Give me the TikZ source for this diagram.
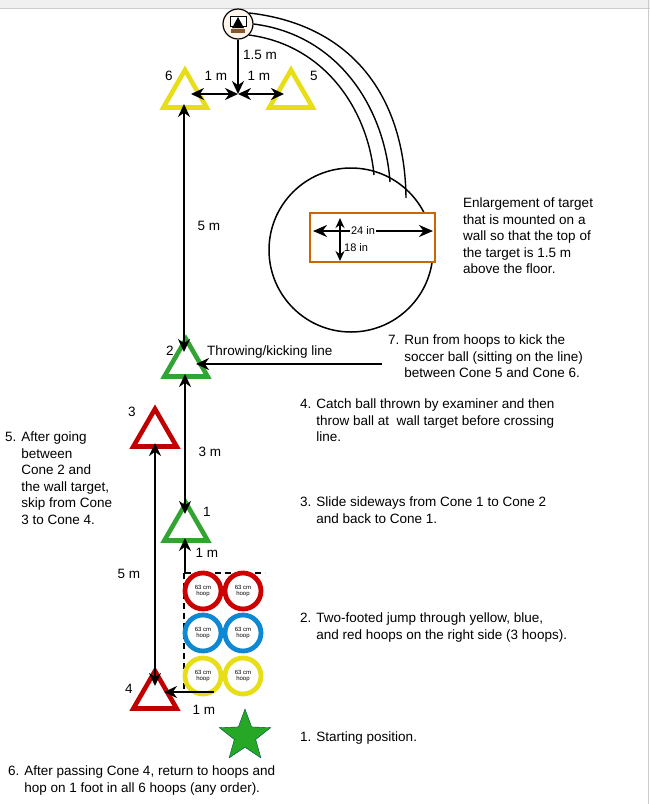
\documentclass[tikz,border=0pt]{standalone}
\usepackage{fontspec}
\setmainfont{Liberation Sans}
\usetikzlibrary{shapes.geometric,arrows.meta}
\begin{document}
\begin{tikzpicture}[x=1pt,y=-1pt,
  cone/.style={regular polygon,regular polygon sides=3,minimum size=50pt,inner sep=0pt,draw=#1,line width=4.6pt},
  hoopc/.style={circle,draw=#1,line width=4.8pt,minimum size=36pt,inner sep=0pt,align=center,font=\fontsize{6}{6.5}\selectfont},
  dim/.style={line width=2.8pt,{Stealth[length=13pt,width=12pt]}-{Stealth[length=13pt,width=12pt]}},
  one/.style={line width=2.8pt,-{Stealth[length=13pt,width=12pt]}},
  lbl/.style={font=\fontsize{13.5}{16.5}\selectfont,inner sep=0pt},
  para/.style={lbl,align=left,anchor=north west}]
\useasboundingbox (0,0) rectangle (650,804);
\fill[gray!12] (0,0) rectangle (650,8);
\draw[gray!40,line width=1pt] (0,8) -- (650,8) (648,0) -- (648,804);
% target
\node[circle,draw,line width=1.2pt,fill=orange!8,minimum size=30pt,inner sep=0pt] (tg) at (238,24) {};
\draw[fill=white] (230,16) rectangle (246,26);
\fill (238,17) -- (232,28) -- (244,28) -- cycle;
\fill[brown!70!black] (231,29) rectangle (245,33);
% cones
\node[cone=yellow!90!black] (c6) at (185,95) {};
\node[cone=yellow!90!black] (c5) at (291,95) {};
\node[cone=green!55!black!80] (c2) at (186,364) {};
\node[cone=red!75!black] (c3) at (155,434) {};
\node[cone=green!55!black!80] (c1) at (186,528) {};
\node[cone=red!75!black] (c4) at (155,696) {};
\node[lbl] at (169,76) {6};
\node[lbl] at (314,76) {5};
\node[lbl] at (170,351) {2};
\node[lbl] at (132,412) {3};
\node[lbl] at (207,512) {1};
\node[lbl] at (129,689) {4};
% top dims
\coordinate (mid) at (238,94);
\draw[one] (tg.south) -- (mid);
\draw[dim] (191,94) -- (mid);
\draw[dim] (mid) -- (284,94);
\node[lbl,anchor=west] at (243,55) {1.5 m};
\node[lbl] at (216,76) {1 m};
\node[lbl] at (259,76) {1 m};
% 5 m vertical
\draw[dim] (184,104) -- (184,352);
\node[lbl] at (209,226) {5 m};
% big circle & enlargement
\node[circle,draw,line width=1.5pt,minimum size=164pt,inner sep=0pt] (big) at (351,250) {};
\draw[line width=1.4pt] (tg.east) .. controls (340,35) and (385,110) .. (390,182);
\draw[line width=1.4pt] (tg.north east) .. controls (355,25) and (405,100) .. (406,198);
\draw[line width=1.4pt] (tg.south east) .. controls (325,45) and (368,110) .. (374,175);
\draw[orange!80!black,line width=2pt,fill=white] (310,213) rectangle (435,262);
\draw[line width=2.4pt,{Stealth[length=14pt,width=12pt]}-{Stealth[length=14pt,width=12pt]}] (313,231) -- (433,231);
\node[lbl,fill=white,inner xsep=1pt,font=\fontsize{11}{13}\selectfont] at (363,231) {24 in};
\draw[line width=1.8pt,{Stealth[length=10pt,width=9pt]}-{Stealth[length=10pt,width=9pt]}] (340,218) -- (340,261);
\node[lbl,anchor=west,font=\fontsize{11}{13}\selectfont] at (344,248) {18 in};
\node[para] at (463,198) {Enlargement of target\\that is mounted on a\\wall so that the top of\\the target is 1.5 m\\above the floor.};
% throwing line
\coordinate (tl) at (382,364);
\draw[one] (tl) -- (196,364);
\node[lbl,anchor=west] at (207,352) {Throwing/kicking line};
\node[para] at (388,335) {7. Run from hoops to kick the\\\hspace*{1.2em}soccer ball (sitting on the line)\\\hspace*{1.2em}between Cone 5 and Cone 6.};
% 3 m
\draw[dim] (185,374) -- (185,514);
\node[lbl] at (210,452) {3 m};
% 1 m
\draw[one] (185,573) -- (185,538);
\node[lbl] at (207,553) {1 m};
\draw[line width=2.6pt,dash pattern=on 6pt off 4pt] (185,573) -- (265,573);
\draw[line width=2.6pt,dash pattern=on 6pt off 4pt] (184,573) -- (184,692);
% hoops
\foreach \n/\x/\y/\c in {a/203/591/red!80!black,b/243/591/red!80!black,c/203/633/cyan!70!blue,d/243/633/cyan!70!blue,e/203/676/yellow!90!black,f/243/676/yellow!90!black}
  \node[hoopc=\c] (h\n) at (\x,\y) {63 cm\\hoop};
% 5 m left
\draw[dim] (155,443) -- (155,686);
\node[lbl] at (129,574) {5 m};
% 1 m bottom
\draw[one] (214,692) -- (164,692);
\node[lbl] at (204,710) {1 m};
% star
\node[star,star points=5,star point ratio=2.4,minimum size=54pt,inner sep=0pt,fill=green!60!black!85,draw=teal!60!black] (st) at (245,736) {};
% texts
\node[para] at (300,732) {1. Starting position.};
\node[para] at (300,613) {2. Two-footed jump through yellow, blue,\\\hspace*{1.2em}and red hoops on the right side (3 hoops).};
\node[para] at (300,497) {3. Slide sideways from Cone 1 to Cone 2\\\hspace*{1.2em}and back to Cone 1.};
\node[para] at (300,399) {4. Catch ball thrown by examiner and then\\\hspace*{1.2em}throw ball at\ \ wall target before crossing\\\hspace*{1.2em}line.};
\node[para] at (5,432) {5. After going\\\hspace*{1.2em}between\\\hspace*{1.2em}Cone 2 and\\\hspace*{1.2em}the wall target,\\\hspace*{1.2em}skip from Cone\\\hspace*{1.2em}3 to Cone 4.};
\node[para] at (8,766) {6. After passing Cone 4, return to hoops and\\\hspace*{1.2em}hop on 1 foot in all 6 hoops (any order).};
\end{tikzpicture}
\end{document}
